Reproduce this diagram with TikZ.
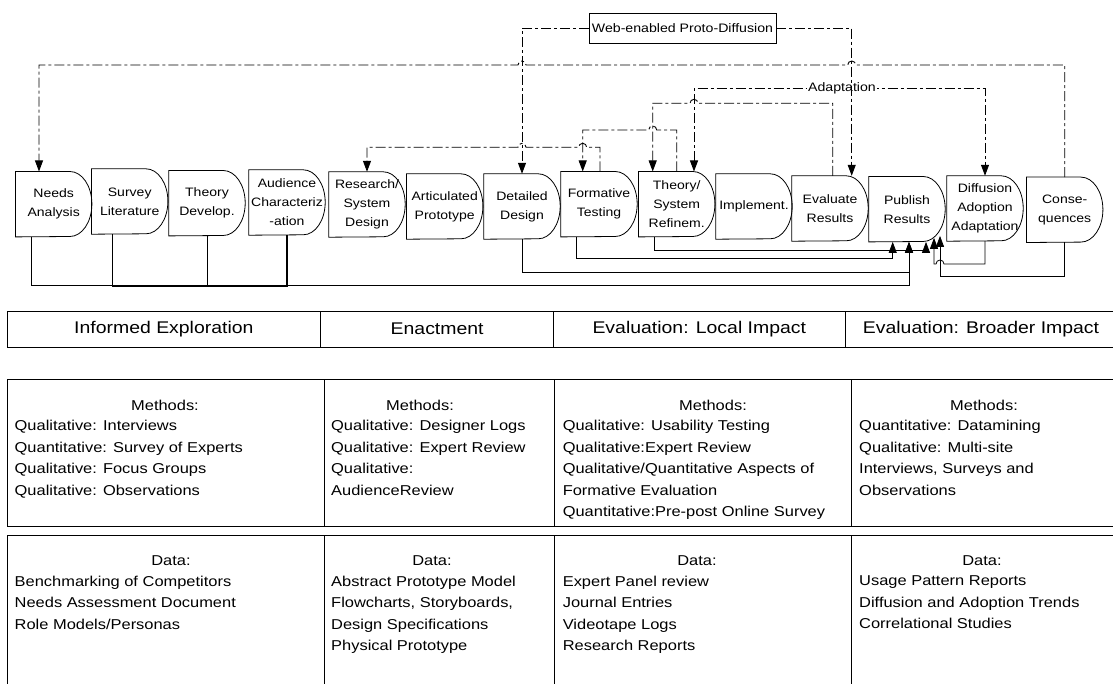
\documentclass[tikz,border=0pt]{standalone}
\usepackage{fontspec}
\setmainfont{Liberation Sans}[FakeStretch=1.15]
\usepackage{tikz}
\usetikzlibrary{arrows.meta}

\begin{document}
\begin{tikzpicture}[x=1pt, y=1pt]
    \tikzstyle{stagebox} = [rectangle, inner sep=0pt, minimum width=76pt, minimum height=65pt, align=center, font=\fontsize{12.2}{19}\selectfont]
    \tikzstyle{dashlink} = [line width=0.9pt, dash pattern=on 10pt off 3pt on 3pt off 3pt]
    \tikzstyle{solidlink} = [line width=0.8pt]
    \tikzstyle{arr} = [-{Triangle[width=8pt,length=11pt]}]
    \tikzstyle{tagbox} = [rectangle, inner sep=1pt, font=\fontsize{12.3}{14}\selectfont]
    \tikzstyle{phasebox} = [rectangle, draw, line width=0.8pt, inner sep=0pt, minimum height=36pt, font=\fontsize{16.9}{20}\selectfont]
    \tikzstyle{cellbox} = [rectangle, draw, line width=0.8pt, inner sep=0pt]
    \tikzstyle{celltitle} = [inner sep=0pt, anchor=base, font=\fontsize{14.3}{21.5}\selectfont]
    \tikzstyle{celltext} = [inner sep=0pt, anchor=north west, align=left, font=\fontsize{14.3}{21.5}\selectfont]

    \useasboundingbox (0,0) rectangle (1113,-684);
    \clip (0,0) rectangle (1113,-684);

    % Stages
    \node[stagebox] (na) at (53.7,-204.2) {Needs\\Analysis};
    \node[stagebox] (sl) at (129.7,-201.5) {Survey\\Literature};
    \node[stagebox] (td) at (207,-203.2) {Theory\\Develop.};
    \node[stagebox] (ac) at (287,-202.5) {Audience\\Characteriz\\-ation};
    \node[stagebox] (rs) at (367,-204.5) {Research/\\System\\Design};
    \node[stagebox] (ap) at (444.7,-206.5) {Articulated\\Prototype};
    \node[stagebox] (dd) at (522,-206.5) {Detailed\\Design};
    \node[stagebox] (ft) at (599,-204.2) {Formative\\Testing};
    \node[stagebox] (ts) at (676.7,-204.2) {Theory/\\System\\Refinem.};
    \node[stagebox] (im) at (754,-206.5) {Implement.};
    \node[stagebox] (er) at (830,-208.5) {Evaluate\\Results};
    \node[stagebox] (pr) at (907,-209.2) {Publish\\Results};
    \node[stagebox] (da) at (985,-208.5) {Diffusion\\Adoption\\Adaptation};
    \node[stagebox] (cq) at (1064.7,-209.8) {Conse-\\quences};
    \foreach \s in {na,sl,td,ac,rs,ap,dd,ft,ts,im,er,pr,da,cq}
        \draw[line width=0.8pt] (\s.north west) -- ([xshift=-22pt]\s.north east)
            arc[start angle=90, end angle=-90, x radius=22pt, y radius=32.5pt]
            -- (\s.south west) -- cycle;

    % Feedback loops
    \draw[dashlink, arr] (cq.north) |- (855.7,-65) arc[start angle=0, end angle=180, radius=4pt]
        -- (526,-65) arc[start angle=0, end angle=180, radius=4pt] -| ([xshift=-14.7]na.north);
    \draw[dashlink, arr] ([xshift=1]ft.north) |- (586.7,-147.3) arc[start angle=0, end angle=180, radius=4pt]
        -- (526,-147.3) arc[start angle=0, end angle=180, radius=4pt] -| (rs.north);
    \draw[dashlink, arr] (ts.north) |- (656.7,-130) arc[start angle=0, end angle=180, radius=4pt]
        -| ([xshift=-16.3]ft.north);
    \draw[dashlink, arr] ([xshift=2.7]er.north) |- (698,-103.3) arc[start angle=0, end angle=180, radius=4pt]
        -| ([xshift=-24]ts.north);
    \draw[dashlink, {Triangle[width=8pt,length=11pt]}-{Triangle[width=8pt,length=11pt]}]
        ([xshift=17.3]ts.north) |- (900,-88.3) -| (da.north);
    \node[tagbox, fill=white] (adapt) at (842,-88.3) {Adaptation};

    % Proto-diffusion
    \node[tagbox, draw, line width=0.8pt, minimum width=187pt, minimum height=30pt] (web) at (682.5,-28) {Web-enabled Proto-Diffusion};
    \draw[dashlink, arr] (web.west) -| (dd.north);
    \draw[dashlink, arr] (web.east) -| ([xshift=21.7]er.north);

    % Results flow
    \draw[line width=1.4pt] ([xshift=-17]sl.south) |- (200,-286.5) -| (ac.south);
    \draw[solidlink] (td.south) -- (td.south |- 0,-286.5);
    \draw[solidlink, arr] ([xshift=-22]na.south) |- (909,-285.7) -- ([xshift=2]pr.south);
    \draw[solidlink, arr] (dd.south) |- (909,-272.7) -- ([xshift=2]pr.south);
    \draw[solidlink, arr] ([xshift=-23]ft.south) |- (892.7,-258.3) -- ([xshift=-14.3]pr.south);
    \draw[solidlink, arr] ([xshift=-22.7]ts.south) |- (926,-250) -- ([xshift=19]pr.south);
    \draw[solidlink, arr] (da.south) |- (944,-264) arc[start angle=0, end angle=180, radius=4pt]
        -| ([xshift=27,yshift=4]pr.south);
    \draw[solidlink, arr] (cq.south) |- (940,-276.7) -- ([xshift=33,yshift=6]pr.south);

    % Phases
    \node[phasebox, minimum width=313.7pt] (ph1) at (163.85,-329) {Informed Exploration};
    \node[phasebox, minimum width=232.9pt] (ph2) at (437.15,-329) {Enactment};
    \node[phasebox, minimum width=291.4pt] (ph3) at (699.3,-329) {Evaluation: Local Impact};
    \node[phasebox, minimum width=272pt] (ph4) at (981,-329) {Evaluation: Broader Impact};

    % Methods
    \node[cellbox, minimum width=317pt, minimum height=147pt] (m1) at (165.5,-452.5) {};
    \node[cellbox, minimum width=230pt, minimum height=147pt] (m2) at (439,-452.5) {};
    \node[cellbox, minimum width=297.6pt, minimum height=147pt] (m3) at (702.8,-452.5) {};
    \node[cellbox, minimum width=265.4pt, minimum height=147pt] (m4) at (984.3,-452.5) {};
    \node[celltitle] (m1t) at (165,-410) {Methods:};
    \node[celltitle] (m2t) at (420,-410) {Methods:};
    \node[celltitle] (m3t) at (713,-410) {Methods:};
    \node[celltitle] (m4t) at (984,-410) {Methods:};
    \node[celltext] (m1x) at (14.5,-420.2) {Qualitative: Interviews\\Quantitative: Survey of Experts\\Qualitative: Focus Groups\\Qualitative: Observations};
    \node[celltext] (m2x) at (331,-420.2) {Qualitative: Designer Logs\\Qualitative: Expert Review\\Qualitative:\\AudienceReview};
    \node[celltext] (m3x) at (562.6,-420.2) {Qualitative: Usability Testing\\Qualitative:Expert Review\\Qualitative/Quantitative Aspects of\\Formative Evaluation\\Quantitative:Pre-post Online Survey};
    \node[celltext] (m4x) at (859,-420.2) {Quantitative: Datamining\\Qualitative: Multi-site\\Interviews, Surveys and\\Observations};

    % Data
    \node[cellbox, minimum width=317pt, minimum height=165pt] (d1) at (165.5,-617.5) {};
    \node[cellbox, minimum width=230pt, minimum height=165pt] (d2) at (439,-617.5) {};
    \node[cellbox, minimum width=297.6pt, minimum height=165pt] (d3) at (702.8,-617.5) {};
    \node[cellbox, minimum width=265.4pt, minimum height=165pt] (d4) at (984.3,-617.5) {};
    \node[celltitle] (d1t) at (171,-565) {Data:};
    \node[celltitle] (d2t) at (432,-565) {Data:};
    \node[celltitle] (d3t) at (697,-565) {Data:};
    \node[celltitle] (d4t) at (982,-565) {Data:};
    \node[celltext] (d1x) at (14.5,-575.6) {Benchmarking of Competitors\\Needs Assessment Document\\Role Models/Personas};
    \node[celltext] (d2x) at (331,-575.6) {Abstract Prototype Model\\Flowcharts, Storyboards,\\Design Specifications\\Physical Prototype};
    \node[celltext] (d3x) at (562.6,-575.6) {Expert Panel review\\Journal Entries\\Videotape Logs\\Research Reports};
    \node[celltext] (d4x) at (859,-575.6) {Usage Pattern Reports\\Diffusion and Adoption Trends\\Correlational Studies};
\end{tikzpicture}
\end{document}
